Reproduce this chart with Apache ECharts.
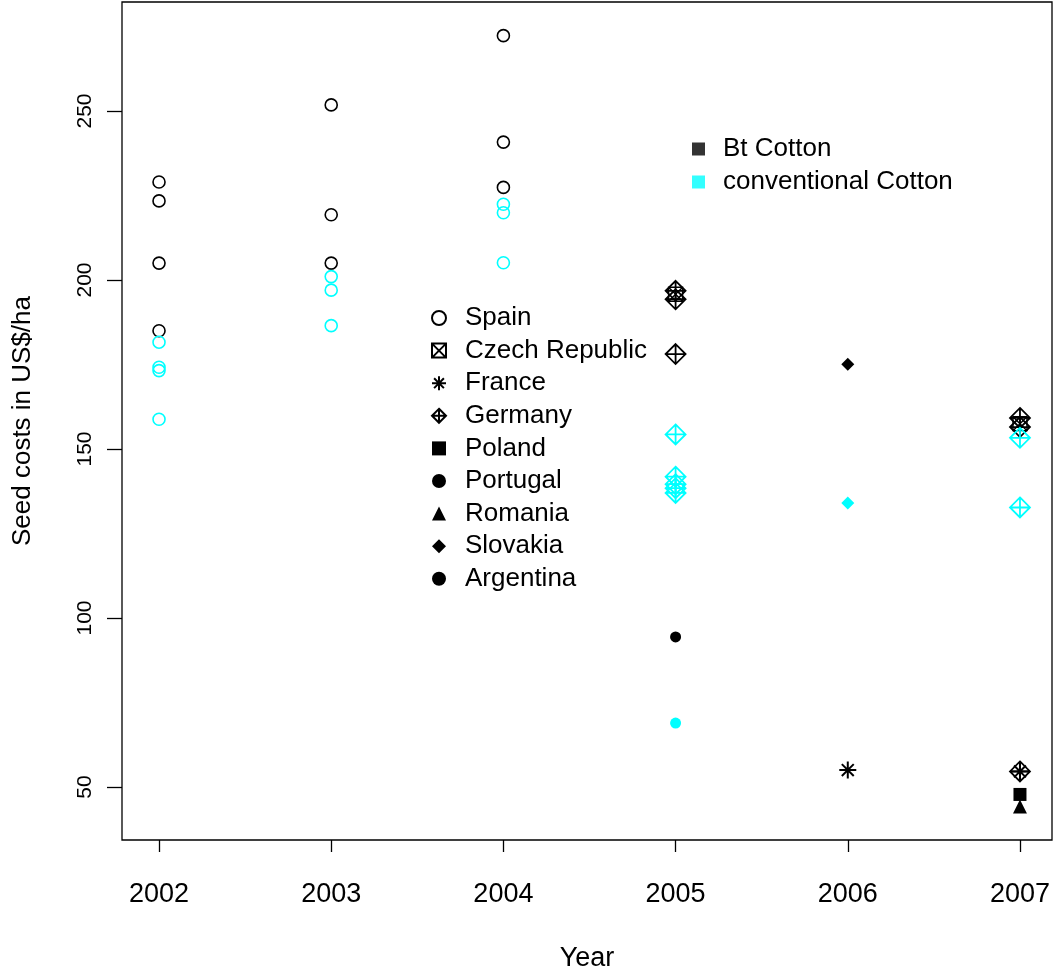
<!DOCTYPE html>
<html>
<head>
<meta charset="utf-8">
<script src="https://cdn.jsdelivr.net/npm/echarts@6/dist/echarts.min.js"></script>
<style>
  html, body { margin: 0; padding: 0; background: #fff; }
  #chart { width: 1053px; height: 972px; }
</style>
</head>
<body>
<div id="chart"></div>
<script>
  // tick labels
  const years = [2002, 2003, 2004, 2005, 2006, 2007]
  const yTicks = [50, 100, 150, 200, 250]

  // [year, seed cost US$/ha], black = Bt cotton, cyan = conventional
  const spainBt = [[2002, 229.0], [2002, 223.4], [2002, 205.0], [2002, 185.0],
    [2003, 251.8], [2003, 219.3], [2003, 205.0],
    [2004, 272.3], [2004, 240.8], [2004, 227.4]]
  const spainConv = [[2002, 181.6], [2002, 174.2], [2002, 173.2], [2002, 158.8],
    [2003, 201.0], [2003, 197.0], [2003, 186.5],
    [2004, 222.4], [2004, 219.9], [2004, 205.1]]
  const czechBt = [[2005, 195.8], [2007, 157.5]]
  const franceBt = [[2006, 55.0], [2007, 54.6]]
  const germanyBt = [[2005, 196.8], [2005, 194.3], [2005, 178.1], [2007, 159.2], [2007, 156.5], [2007, 54.6]]
  const germanyConv = [[2005, 154.3], [2005, 141.8], [2005, 139.6], [2005, 138.4], [2005, 137.0],
    [2007, 153.3], [2007, 132.7]]
  const polandBt = [[2007, 47.8]]
  const portugalBt = [[2005, 94.4]]
  const portugalConv = [[2005, 68.9]]
  const romaniaBt = [[2007, 44.2]]
  const slovakiaBt = [[2006, 175.1]]
  const slovakiaConv = [[2006, 134.0]]
  const argentinaBt = []

  const BLACK = '#000000'
  const CYAN = '#00ffff'
  const FONT = '"Liberation Sans", Arial, sans-serif'

  // R-like plotting symbols
  const symbols = {
    Spain: { symbol: 'circle', size: 12, hollow: true, width: 1.6 },
    'Czech Republic': { symbol: 'path://M0,0L10,0L10,10L0,10Z M0,0L10,10 M10,0L0,10', size: 14, hollow: true, width: 1.4 },
    France: { symbol: 'path://M5,0L5,10 M0,5L10,5 M1.5,1.5L8.5,8.5 M8.5,1.5L1.5,8.5', size: 17, hollow: true, width: 2 },
    Germany: { symbol: 'path://M5,0L10,5L5,10L0,5Z M5,0L5,10 M0,5L10,5', size: 20, hollow: true, width: 1.8 },
    Poland: { symbol: 'rect', size: 13 },
    Portugal: { symbol: 'circle', size: 11 },
    Romania: { symbol: 'triangle', size: 14 },
    Slovakia: { symbol: 'diamond', size: 13 },
    Argentina: { symbol: 'circle', size: 7 }
  }

  const groups = [
    ['Spain', spainBt, spainConv],
    ['Czech Republic', czechBt, []],
    ['France', franceBt, []],
    ['Germany', germanyBt, germanyConv],
    ['Poland', polandBt, []],
    ['Portugal', portugalBt, portugalConv],
    ['Romania', romaniaBt, []],
    ['Slovakia', slovakiaBt, slovakiaConv],
    ['Argentina', argentinaBt, []]
  ]

  function makeSeries(name, data, color) {
    const s = symbols[name.replace(' conv', '')]
    return {
      name: name,
      type: 'scatter',
      data: data,
      symbol: s.symbol,
      symbolSize: s.size,
      itemStyle: s.hollow
        ? { color: 'rgba(0,0,0,0)', borderColor: color, borderWidth: s.width, opacity: 1 }
        : { color: color, borderWidth: 0, opacity: 1 },
      emphasis: { disabled: true },
      silent: true
    }
  }

  const series = []
  groups.forEach(function (g) {
    series.push(makeSeries(g[0], g[1], BLACK))
    series.push(makeSeries(g[0] + ' conv', g[2], CYAN))
  })
  // dummies for the colour legend
  series.push({ name: 'Bt Cotton', type: 'scatter', data: [], itemStyle: { color: BLACK } })
  series.push({ name: 'conventional Cotton', type: 'scatter', data: [], itemStyle: { color: CYAN } })

  const chart = echarts.init(document.getElementById('chart'))
  chart.setOption({
    animation: false,
    backgroundColor: '#ffffff',
    textStyle: { fontFamily: FONT },
    grid: {
      left: 122, top: 2, right: 1, bottom: 132,
      outerBoundsMode: 'none',
      containLabel: false,
      show: true, borderColor: BLACK, borderWidth: 1.3, backgroundColor: 'transparent'
    },
    xAxis: {
      type: 'value',
      min: 2001.785,
      max: 2007.186,
      name: 'Year',
      nameLocation: 'middle',
      nameGap: 105,
      nameTextStyle: { fontSize: 27, color: BLACK, fontFamily: FONT },
      axisLine: { show: false },
      splitLine: { show: false },
      axisTick: { show: true, length: 12, customValues: years, lineStyle: { color: BLACK, width: 1.3 } },
      axisLabel: {
        customValues: years, margin: 41, fontSize: 27, color: BLACK, fontFamily: FONT,
        formatter: function (v) { return String(v) }
      }
    },
    yAxis: {
      type: 'value',
      min: 34.32,
      max: 282.25,
      name: 'Seed costs in US$/ha',
      nameLocation: 'middle',
      nameGap: 86,
      nameTextStyle: { fontSize: 26, color: BLACK, fontFamily: FONT },
      axisLine: { show: false },
      splitLine: { show: false },
      axisTick: { show: true, length: 15, customValues: yTicks, lineStyle: { color: BLACK, width: 1.3 } },
      axisLabel: { customValues: yTicks, rotate: 90, margin: 26, fontSize: 21, color: BLACK, fontFamily: FONT }
    },
    legend: [
      {
        orient: 'vertical',
        left: 431,
        top: 305,
        padding: 0,
        itemWidth: 14,
        itemHeight: 14,
        itemGap: 6.6,
        selectedMode: false,
        textStyle: { fontSize: 26, lineHeight: 25, color: BLACK, fontFamily: FONT, padding: [0, 0, 0, 14] },
        data: groups.map(function (g) {
          const s = symbols[g[0]]
          return { name: g[0], icon: s.symbol }
        })
      },
      {
        orient: 'vertical',
        left: 692,
        top: 136,
        padding: 0,
        itemWidth: 13,
        itemHeight: 13,
        itemGap: 7,
        selectedMode: false,
        textStyle: { fontSize: 26, lineHeight: 25, color: BLACK, fontFamily: FONT, padding: [0, 0, 0, 13] },
        data: [
          { name: 'Bt Cotton', icon: 'rect' },
          { name: 'conventional Cotton', icon: 'rect' }
        ]
      }
    ],
    series: series
  })
</script>
</body>
</html>
